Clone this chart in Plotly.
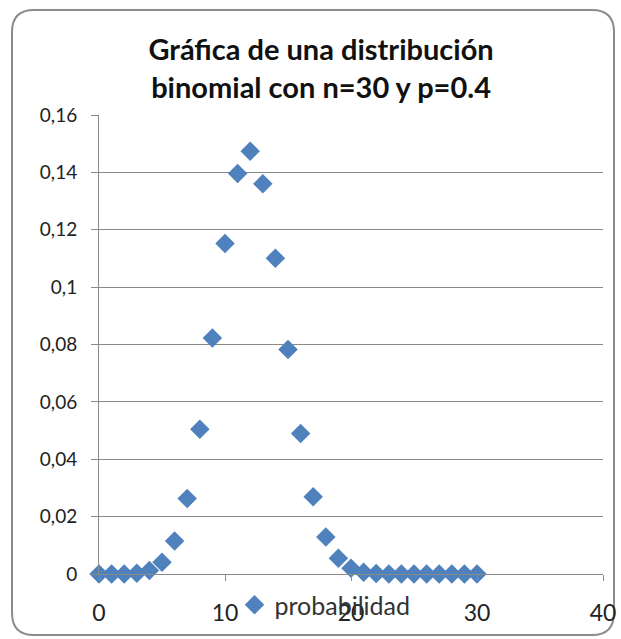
import plotly.graph_objects as go

# Number of successes k and its probability P(X = k), n = 30, p = 0.4
k_values = list(range(0, 31))
probabilidad = [
    0.0000, 0.0000, 0.0000, 0.0003, 0.0012, 0.0041, 0.0115, 0.0263,
    0.0505, 0.0823, 0.1152, 0.1396, 0.1474, 0.1360, 0.1101, 0.0783,
    0.0490, 0.0269, 0.0129, 0.0055, 0.0020, 0.0006, 0.0002, 0.0000,
    0.0000, 0.0000, 0.0000, 0.0000, 0.0000, 0.0000, 0.0000,
]
x_ticks = [0, 10, 20, 30, 40]
y_ticks = [0, 0.02, 0.04, 0.06, 0.08, 0.10, 0.12, 0.14, 0.16]
y_tick_text = ["0", "0,02", "0,04", "0,06", "0,08", "0,1", "0,12", "0,14", "0,16"]

W, H = 621, 639
L, R, T, B = 99, 18, 115, 65
PW, PH = W - L - R, H - T - B

FONT = "Lato, 'Open Sans', sans-serif"
GRID = "#8a8a8a"

fig = go.Figure()
fig.add_trace(go.Scatter(
    x=k_values, y=probabilidad, mode="markers", name="probabilidad",
    marker=dict(symbol="diamond", size=15, color="#4F81BD"),
    cliponaxis=False,
))


def px(xp):
    return (xp - L) / PW


def py(yp):
    return (H - B - yp) / PH


# rounded outer frame
x0, x1, y0, y1, r = 12, 614, 10, 635, 22
path = (
    f"M {px(x0)},{py(y0 + r)} "
    f"Q {px(x0)},{py(y0)} {px(x0 + r)},{py(y0)} "
    f"L {px(x1 - r)},{py(y0)} "
    f"Q {px(x1)},{py(y0)} {px(x1)},{py(y0 + r)} "
    f"L {px(x1)},{py(y1 - r)} "
    f"Q {px(x1)},{py(y1)} {px(x1 - r)},{py(y1)} "
    f"L {px(x0 + r)},{py(y1)} "
    f"Q {px(x0)},{py(y1)} {px(x0)},{py(y1 - r)} Z"
)
fig.add_shape(type="path", path=path, xref="paper", yref="paper",
              line=dict(color="#8c8c8c", width=2), layer="below")

fig.update_layout(
    width=W, height=H,
    margin=dict(l=L, r=R, t=T, b=B, autoexpand=False),
    paper_bgcolor="white", plot_bgcolor="white",
    font=dict(family=FONT, size=19, color="#222222"),
    title=dict(
        text="<b>Gráfica de una distribución<br>binomial con n=30 y p=0.4</b>",
        x=0.517, xanchor="center", y=1 - 60 / H, yanchor="middle",
        font=dict(family=FONT, size=29, color="#111111"),
    ),
    showlegend=True,
    legend=dict(
        x=px(325), y=py(605), xanchor="center", yanchor="middle",
        orientation="h", bgcolor="rgba(0,0,0,0)",
        font=dict(family=FONT, size=25, color="#333333"),
        itemwidth=30,
    ),
    xaxis=dict(
        range=[0, 40], tickvals=x_ticks, showgrid=False, zeroline=False,
        showline=True, linecolor=GRID, linewidth=1, automargin=False,
        ticks="outside", ticklen=6, tickcolor=GRID, ticklabelstandoff=12,
        tickfont=dict(family=FONT, size=23, color="#222222"),
    ),
    yaxis=dict(
        range=[0, 0.16], tickvals=y_ticks, ticktext=y_tick_text,
        showgrid=True, gridcolor=GRID, gridwidth=1, zeroline=False,
        showline=True, linecolor=GRID, linewidth=1, automargin=False,
        ticks="outside", ticklen=7, tickcolor=GRID, ticklabelstandoff=10,
        tickfont=dict(family=FONT, size=19, color="#222222"),
    ),
)

fig.write_html("out.html")
